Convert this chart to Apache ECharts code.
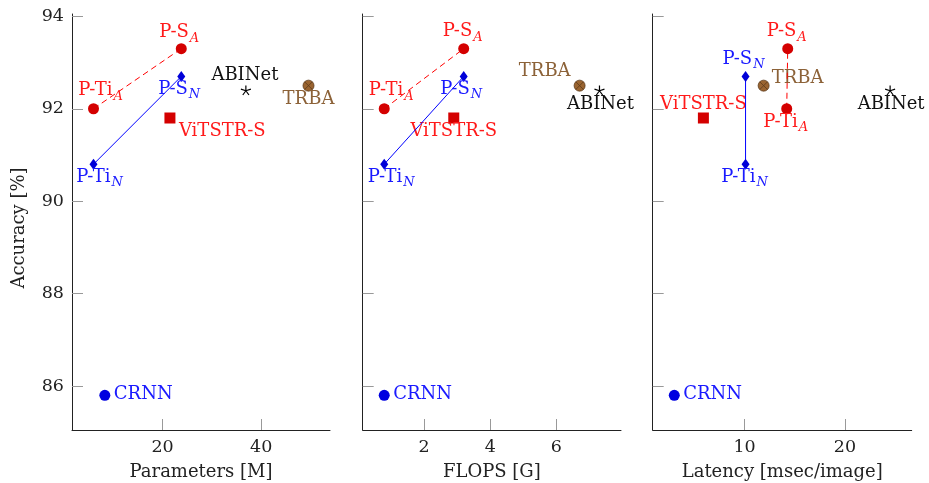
<!DOCTYPE html>
<html><head><meta charset="utf-8">
<script src="https://cdn.jsdelivr.net/npm/echarts@6/dist/echarts.min.js"></script>
<style>html,body{margin:0;padding:0;background:#fff}#c{width:929px;height:483px}</style>
</head><body><div id="c"></div>
<script>
// ---- data ----
const modelNames = ['P-S', 'P-Ti', 'P-S', 'P-Ti', 'ViTSTR-S', 'ABINet', 'TRBA', 'CRNN'];
const modelSubs  = ['A', 'A', 'N', 'N', '', '', '', ''];
const accuracy   = [93.3, 92.0, 92.7, 90.8, 91.8, 92.4, 92.5, 85.8];
const paramsM    = [23.8, 6.0, 23.8, 6.0, 21.5, 36.9, 49.6, 8.3];
const flopsG     = [3.2, 0.8, 3.2, 0.8, 2.9, 7.3, 6.7, 0.8];
const latencyMs  = [14.3, 14.2, 10.1, 10.1, 5.9, 24.5, 11.9, 3.0];
const accTicks   = [86, 88, 90, 92, 94];
const paramTicks = [20, 40];
const flopTicks  = [2, 4, 6];
const latTicks   = [10, 20];
const xTitles    = ['Parameters [M]', 'FLOPS [G]', 'Latency [msec/image]'];
const yTitle     = 'Accuracy [%]';

// ---- layout & style ----
const FONT = "'DejaVu Serif', 'Liberation Serif', serif";
const FS = 18;
const TFS = 17.5;
const xValues = [paramsM, flopsG, latencyMs];
const xTickSets = [paramTicks, flopTicks, latTicks];
const xRanges = [[1.64, 53.96], [0.15, 7.95], [0.85, 26.65]];
const yRange = [85.05, 94.05];
const grids = [
  {left: 72, top: 14, width: 258, height: 416, outerBoundsMode: 'none', containLabel: false},
  {left: 362.7, top: 14, width: 258.3, height: 416, outerBoundsMode: 'none', containLabel: false},
  {left: 652.7, top: 14, width: 259, height: 416, outerBoundsMode: 'none', containLabel: false}
];
const RED_MARK = '#d40000', RED_TXT = '#ff1a1a';
const BLUE_MARK = '#0000d8', BLUE_TXT = '#1a1aff';
const BROWN_MARK = '#9a6430', BROWN_TXT = '#8c6238';
const labelColors = [RED_TXT, RED_TXT, BLUE_TXT, BLUE_TXT, RED_TXT, '#111', BROWN_TXT, BLUE_TXT];
// [align, dx, dy] per panel per model
const labelLayouts = [
  [['center', -2, -15], ['center', 7, -17], ['center', -2, 14], ['center', 6, 14],
   ['left', 9, 14], ['center', -1, -14], ['center', 0, 14.5], ['left', 9, 0]],
  [['center', -1, -16], ['center', 7, -17], ['center', -2.5, 14], ['center', 7, 14],
   ['center', 0, 14], ['center', 1, 15], ['right', -9, -13], ['left', 9, 0]],
  [['center', -1, -16], ['center', -1, 14.5], ['center', -2, -16], ['center', -1, 14],
   ['center', 0, -13], ['center', 1, 15], ['left', 8, -6], ['left', 9, 0]]
];
const STAR = 'path://M10,10 L10,0 M10,10 L19.51,6.91 M10,10 L15.88,18.09 M10,10 L4.12,18.09 M10,10 L0.49,6.91';
const OTIMES = 'path://M0,10 A10,10 0 1,1 20,10 A10,10 0 1,1 0,10 Z M2.93,2.93 L17.07,17.07 M17.07,2.93 L2.93,17.07';

const rich = {
  m: {fontFamily: FONT, fontSize: FS, lineHeight: 20, verticalAlign: 'top'},
  s: {fontFamily: FONT, fontSize: 13, fontStyle: 'italic', lineHeight: 13, padding: [8, 0, 0, 1], verticalAlign: 'top'}
};

function labelFor(p, i) {
  const [align, dx, dy] = labelLayouts[p][i];
  const txt = modelSubs[i] ? '{m|' + modelNames[i] + '}{s|' + modelSubs[i] + '}' : '{m|' + modelNames[i] + '}';
  const r = {
    m: Object.assign({}, rich.m, {color: labelColors[i]}),
    s: Object.assign({}, rich.s, {color: labelColors[i]})
  };
  return {show: true, position: 'inside', align: align, verticalAlign: 'middle',
          offset: [dx, dy], formatter: txt, rich: r};
}
function point(p, i) {
  return {value: [xValues[p][i], accuracy[i]], label: labelFor(p, i)};
}

const axisCommon = {
  type: 'value',
  axisLine: {show: true, onZero: false, lineStyle: {color: '#222', width: 1}},
  splitLine: {show: false}
};

const xAxes = [], yAxes = [], series = [];
for (let p = 0; p < 3; p++) {
  xAxes.push(Object.assign({}, axisCommon, {
    gridIndex: p, min: xRanges[p][0], max: xRanges[p][1],
    axisTick: {show: true, inside: true, length: 11, customValues: xTickSets[p], lineStyle: {color: '#999'}},
    axisLabel: {show: true, customValues: xTickSets[p], margin: 8, fontFamily: FONT, fontSize: TFS, color: '#222'},
    name: xTitles[p], nameLocation: 'middle', nameGap: 33,
    nameTextStyle: {fontFamily: FONT, fontSize: FS, color: '#222'}
  }));
  yAxes.push(Object.assign({}, axisCommon, {
    gridIndex: p, min: yRange[0], max: yRange[1],
    axisTick: {show: true, inside: true, length: 11, customValues: accTicks, lineStyle: {color: '#999'}},
    axisLabel: {show: p === 0, customValues: accTicks, margin: 8, fontFamily: FONT, fontSize: TFS, color: '#222'},
    name: p === 0 ? yTitle : '', nameLocation: 'middle', nameGap: 44,
    nameTextStyle: {fontFamily: FONT, fontSize: FS, color: '#222', padding: [0, 12, 0, 0]}
  }));
  series.push({type: 'line', xAxisIndex: p, yAxisIndex: p, data: [point(p, 1), point(p, 0)],
    symbol: 'circle', symbolSize: 11, showSymbol: true, itemStyle: {color: RED_MARK, opacity: 1},
    lineStyle: {color: '#ff0000', width: 1, type: [6, 4]}, z: 3});
  series.push({type: 'line', xAxisIndex: p, yAxisIndex: p, data: [point(p, 3), point(p, 2)],
    symbol: 'diamond', symbolSize: [8, 11], showSymbol: true, itemStyle: {color: BLUE_MARK, opacity: 1},
    lineStyle: {color: '#0000ff', width: 1}, z: 3});
  series.push({type: 'scatter', xAxisIndex: p, yAxisIndex: p, data: [point(p, 4)],
    symbol: 'rect', symbolSize: 11, itemStyle: {color: RED_MARK, opacity: 1}});
  series.push({type: 'scatter', xAxisIndex: p, yAxisIndex: p, data: [point(p, 5)],
    symbol: STAR, symbolSize: 10, symbolKeepAspect: true,
    itemStyle: {color: '#000', borderColor: '#000', borderWidth: 1.2, opacity: 1}});
  series.push({type: 'scatter', xAxisIndex: p, yAxisIndex: p, data: [point(p, 6)],
    symbol: OTIMES, symbolSize: 11, symbolKeepAspect: true,
    itemStyle: {color: BROWN_MARK, borderColor: '#5c3a1a', borderWidth: 0.8, opacity: 1}});
  series.push({type: 'scatter', xAxisIndex: p, yAxisIndex: p, data: [point(p, 7)],
    symbol: 'circle', symbolSize: 11, itemStyle: {color: '#0000e0', opacity: 1}});
}

const chart = echarts.init(document.getElementById('c'), null, {renderer: 'canvas'});
chart.setOption({
  animation: false,
  backgroundColor: '#fff',
  textStyle: {fontFamily: FONT},
  grid: grids,
  xAxis: xAxes,
  yAxis: yAxes,
  series: series
});
</script>
</body></html>
